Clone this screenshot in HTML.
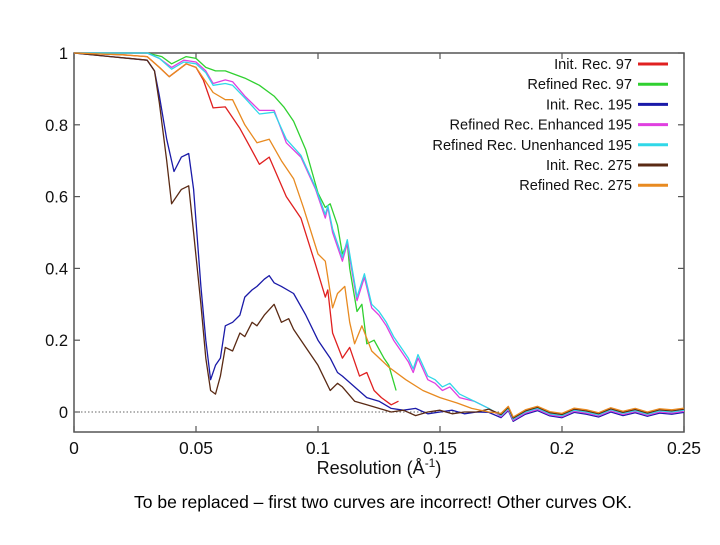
<!DOCTYPE html>
<html><head><meta charset="utf-8"><style>
body{margin:0;background:#fff;width:720px;height:540px;overflow:hidden;font-family:"Liberation Sans",sans-serif}
</style></head><body>
<svg id="chart" width="720" height="540" xmlns="http://www.w3.org/2000/svg" font-family="Liberation Sans, sans-serif">
<rect x="74" y="53" width="610" height="379" fill="none" stroke="#555" stroke-width="1.5"/>
<g id="axes"></g><g id="series"></g><g id="legend"></g>
<text x="379" y="474" font-size="18" text-anchor="middle" fill="#111">Resolution (Å<tspan font-size="12" dy="-7">-1</tspan><tspan dy="7">)</tspan></text>
<text x="383" y="508" font-size="17.5" text-anchor="middle" fill="#000">To be replaced – first two curves are incorrect! Other curves OK.</text>
</svg>
<script>
const xTicks=[0,0.05,0.1,0.15,0.2,0.25];
const xTickLabels=["0","0.05","0.1","0.15","0.2","0.25"];
const yTicks=[0,0.2,0.4,0.6,0.8,1];
const yTickLabels=["0","0.2","0.4","0.6","0.8","1"];
const seriesNames=["Init. Rec. 97","Refined Rec. 97","Init. Rec. 195","Refined Rec. Enhanced 195","Refined Rec. Unenhanced 195","Init. Rec. 275","Refined Rec. 275"];
const seriesColors=["#e02020","#30d030","#1a1aa8","#e040e0","#30d8e8","#5a2a14","#e88a20"];
const tailX=[0.17,0.175,0.178,0.18,0.185,0.19,0.195,0.2,0.205,0.21,0.215,0.22,0.225,0.23,0.235,0.24,0.245,0.25];
const tailY=[0.005,-0.01,0.01,-0.02,0.0,0.01,-0.005,-0.01,0.005,0.0,-0.008,0.006,-0.004,0.004,-0.006,0.003,0.0,0.005];
const init97X=[0,0.02,0.03,0.035,0.039,0.046,0.05,0.053,0.057,0.062,0.068,0.072,0.076,0.08,0.087,0.093,0.099,0.103,0.104,0.106,0.11,0.113,0.117,0.12,0.123,0.126,0.13,0.133];
const init97Y=[1,0.995,0.99,0.96,0.934,0.97,0.96,0.925,0.847,0.85,0.79,0.74,0.69,0.71,0.6,0.54,0.41,0.32,0.34,0.22,0.15,0.18,0.1,0.11,0.06,0.04,0.02,0.03];
const ref97X=[0,0.03,0.036,0.04,0.046,0.05,0.054,0.058,0.062,0.066,0.07,0.076,0.082,0.086,0.09,0.095,0.1,0.103,0.105,0.108,0.11,0.112,0.113,0.116,0.118,0.12,0.123,0.127,0.129,0.132];
const ref97Y=[1,1,0.99,0.97,0.99,0.985,0.96,0.95,0.95,0.94,0.93,0.91,0.88,0.85,0.81,0.73,0.61,0.57,0.58,0.52,0.44,0.47,0.4,0.28,0.3,0.19,0.2,0.15,0.13,0.06];
const init195X=[0,0.015,0.03,0.033,0.035,0.038,0.041,0.044,0.047,0.049,0.052,0.054,0.056,0.058,0.06,0.062,0.065,0.068,0.07,0.073,0.075,0.078,0.08,0.082,0.085,0.09,0.095,0.1,0.103,0.105,0.108,0.11,0.115,0.12,0.125,0.13,0.135,0.14,0.145,0.15,0.155,0.16,0.165];
const init195Y=[1,0.99,0.98,0.95,0.88,0.76,0.67,0.71,0.72,0.62,0.35,0.2,0.09,0.13,0.15,0.24,0.25,0.27,0.32,0.34,0.35,0.37,0.38,0.36,0.35,0.33,0.27,0.2,0.17,0.15,0.11,0.1,0.07,0.04,0.03,0.01,0.005,0.01,-0.005,0.0,0.005,-0.005,0.0];
const enh195X=[0,0.03,0.035,0.04,0.045,0.05,0.054,0.057,0.062,0.065,0.07,0.076,0.082,0.087,0.093,0.099,0.103,0.104,0.106,0.11,0.112,0.113,0.116,0.119,0.122,0.125,0.128,0.131,0.134,0.137,0.139,0.141,0.145,0.148,0.151,0.154,0.158,0.164,0.17];
const enh195Y=[1,1,0.985,0.96,0.98,0.975,0.95,0.915,0.925,0.92,0.88,0.84,0.84,0.75,0.71,0.62,0.54,0.57,0.5,0.42,0.47,0.43,0.31,0.375,0.29,0.27,0.24,0.2,0.17,0.14,0.11,0.15,0.09,0.08,0.06,0.07,0.04,0.03,0.01];
const unenh195X=[0,0.03,0.035,0.04,0.045,0.05,0.054,0.057,0.062,0.065,0.07,0.076,0.082,0.087,0.093,0.099,0.103,0.104,0.106,0.11,0.112,0.113,0.116,0.119,0.122,0.125,0.128,0.131,0.134,0.137,0.139,0.141,0.145,0.148,0.151,0.154,0.158,0.164,0.17];
const unenh195Y=[1,1,0.985,0.955,0.975,0.97,0.945,0.91,0.915,0.91,0.875,0.83,0.835,0.76,0.715,0.625,0.55,0.575,0.51,0.43,0.48,0.44,0.32,0.385,0.3,0.28,0.25,0.21,0.18,0.15,0.12,0.16,0.1,0.09,0.07,0.08,0.05,0.03,0.01];
const init275X=[0,0.015,0.03,0.033,0.035,0.038,0.04,0.044,0.047,0.049,0.052,0.054,0.056,0.058,0.06,0.062,0.065,0.068,0.07,0.073,0.075,0.078,0.082,0.085,0.088,0.09,0.095,0.1,0.105,0.108,0.11,0.115,0.12,0.125,0.13,0.135,0.14,0.145,0.15,0.155,0.16,0.165];
const init275Y=[1,0.99,0.98,0.95,0.86,0.7,0.58,0.62,0.63,0.5,0.3,0.15,0.06,0.05,0.1,0.18,0.17,0.22,0.21,0.25,0.24,0.27,0.3,0.25,0.26,0.23,0.18,0.13,0.06,0.08,0.07,0.03,0.02,0.01,0.0,0.005,-0.01,0.0,0.005,-0.005,0.0,0.0];
const ref275X=[0,0.02,0.03,0.035,0.039,0.046,0.05,0.053,0.057,0.062,0.065,0.07,0.075,0.08,0.085,0.09,0.094,0.1,0.103,0.106,0.108,0.111,0.113,0.115,0.118,0.122,0.129,0.136,0.143,0.15,0.157,0.163,0.17];
const ref275Y=[1,0.995,0.99,0.96,0.934,0.97,0.96,0.93,0.89,0.87,0.87,0.8,0.75,0.76,0.7,0.65,0.57,0.44,0.42,0.29,0.33,0.35,0.25,0.19,0.24,0.17,0.125,0.09,0.06,0.04,0.025,0.01,0.0];
const seriesX=[init97X,ref97X,init195X,enh195X,unenh195X,init275X,ref275X];
const seriesY=[init97Y,ref97Y,init195Y,enh195Y,unenh195Y,init275Y,ref275Y];
const hasTail=[false,false,true,true,true,true,true];

const NS="http://www.w3.org/2000/svg";
const X0=74,X1=684,Y0=412,Y1=53;
function sx(v){return X0+v/0.25*(X1-X0);}
function sy(v){return Y0-v*(Y0-Y1);}
function mk(t,a,p){const e=document.createElementNS(NS,t);for(const k in a)e.setAttribute(k,a[k]);p.appendChild(e);return e;}
const axes=document.getElementById('axes');
xTicks.forEach((v,i)=>{
  const t=mk('line',{x1:sx(v),x2:sx(v),y1:432,y2:426,stroke:'#555','stroke-width':1.2},axes);
  
  const t2=mk('line',{x1:sx(v),x2:sx(v),y1:53,y2:59,stroke:'#555','stroke-width':1.2},axes);
  
  const l=mk('text',{x:sx(v),y:454,'font-size':17.5,'text-anchor':'middle',fill:'#111'},axes);
  l.textContent=xTickLabels[i];
  
});
yTicks.forEach((v,i)=>{
  const t=mk('line',{x1:74,x2:80,y1:sy(v),y2:sy(v),stroke:'#555','stroke-width':1.2},axes);
  
  const t2=mk('line',{x1:684,x2:678,y1:sy(v),y2:sy(v),stroke:'#555','stroke-width':1.2},axes);
  
  const l=mk('text',{x:68,y:sy(v)+6,'font-size':16.5,'text-anchor':'end',fill:'#111'},axes);
  l.textContent=yTickLabels[i];
  
});
const zl=mk('line',{x1:sx(0),x2:sx(0.175),y1:sy(0),y2:sy(0),stroke:'#666','stroke-width':1,'stroke-dasharray':'1.5,2'},axes);

const sg=document.getElementById('series');
seriesX.forEach((xs,i)=>{
  let pts=xs.map((x,j)=>[x,seriesY[i][j]]);
  if(hasTail[i]){tailX.forEach((x,j)=>{if(x>xs[xs.length-1])pts.push([x,tailY[j]+(i-4)*0.003]);});}
  const p=mk('polyline',{points:pts.map(q=>sx(q[0]).toFixed(1)+','+sy(q[1]).toFixed(1)).join(' '),fill:'none',stroke:seriesColors[i],'stroke-width':1.3,'stroke-linejoin':'round'},sg);
  
});
const lg=document.getElementById('legend');
seriesNames.forEach((n,i)=>{
  const y=64+i*20.2;
  const t=mk('text',{x:632,y:y+5,'font-size':14.6,'text-anchor':'end',fill:'#111'},lg);
  t.textContent=n;
  
  const l=mk('line',{x1:638,x2:668,y1:y,y2:y,stroke:seriesColors[i],'stroke-width':3},lg);
  
});
</script>
</body></html>
